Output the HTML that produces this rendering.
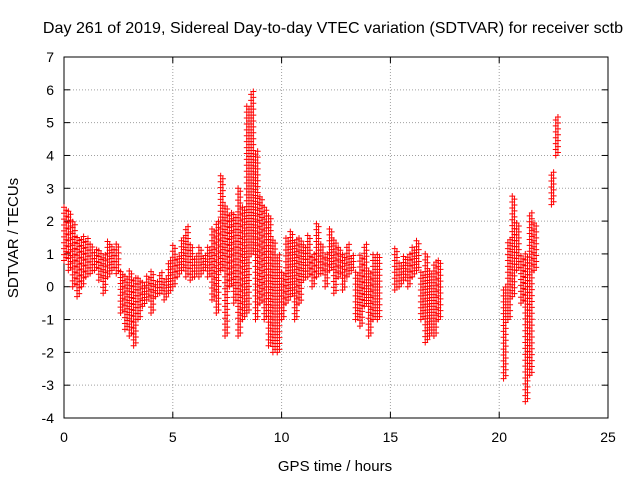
<!DOCTYPE html>
<html><head><meta charset="utf-8"><style>
body{margin:0;background:#fff;}
svg{display:block;font-family:"Liberation Sans",sans-serif;}
</style></head><body>
<svg id="chart" width="640" height="480">
<rect width="640" height="480" fill="#fff"/>
<text x="333" y="33" font-size="16.1" text-anchor="middle">Day 261 of 2019, Sidereal Day-to-day VTEC variation (SDTVAR) for receiver sctb</text>
<g id="grid"></g>
<g id="axes"></g>
<g id="marks"></g>
<text x="335" y="471" font-size="15" text-anchor="middle">GPS time / hours</text>
<text transform="translate(18,238) rotate(-90)" font-size="15" text-anchor="middle">SDTVAR / TECUs</text>
</svg>
<script>
const xTicks=[0,5,10,15,20,25];
const yTicks=[-4,-3,-2,-1,0,1,2,3,4,5,6,7];
const times=[0.0,0.2,0.4,0.6,0.8,1.0,1.2,1.4,1.6,1.8,2.0,2.2,2.4,2.6,2.8,3.0,3.2,3.4,3.6,3.8,4.0,4.2,4.4,4.6,4.8,5.0,5.2,5.4,5.6,5.8,6.0,6.2,6.4,6.6,6.8,7.0,7.2,7.4,7.6,7.8,8.0,8.2,8.4,8.6,8.8,9.0,9.2,9.4,9.6,9.8,10.0,10.2,10.4,10.6,10.8,11.0,11.2,11.4,11.6,11.8,12.0,12.2,12.4,12.6,12.8,13.0,13.2,13.4,13.6,13.8,14.0,14.2,14.4,15.2,15.4,15.6,15.8,16.0,16.2,16.4,16.6,16.8,17.0,17.2,20.2,20.4,20.6,20.8,21.0,21.2,21.4,21.6,22.4,22.6];
const lowVals=[0.8,0.5,0,-0.3,0,0.3,0.4,0.5,0.2,-0.2,0.3,0.5,0.4,-0.8,-1.3,-1.5,-1.8,-1.0,-0.6,-0.4,-0.8,-0.3,-0.2,-0.4,-0.2,0,0.3,0.5,0.3,0.2,0.3,0.3,0.5,0.3,-0.4,-0.8,0.5,-1.5,0,-0.5,-1.5,-1.0,-0.8,1.0,-1.0,-0.5,-1.0,-1.8,-2.0,-2.0,-1.0,-0.5,-0.3,-1.0,-0.5,0.2,0.3,0,0.3,0.4,0,0.5,-0.2,0.3,-0.1,0.3,0.5,-1.0,-1.2,-0.6,-1.5,-1.0,-1.0,-0.1,0,0.2,0,0.3,0.5,-1.0,-1.7,-1.5,-1.5,-1.0,-2.8,-1.0,-0.3,0.5,-0.5,-3.5,-2.7,0.5,2.5,4.0];
const highVals=[2.5,2.3,2,1.5,1.6,1.5,1.3,1.2,1.1,1.0,1.4,1.3,1.3,0.5,0.4,0.5,0.3,0.3,0.2,0.4,0.5,0.2,0.5,0.3,0.8,1.3,1.0,1.5,1.9,1.3,1.0,1.2,1.0,1.2,1.8,2.0,3.4,2.5,2.3,2.2,3.0,2.5,5.5,6.0,4.2,2.8,2.5,2.2,1.5,1.0,0.5,1.5,1.7,1.5,1.5,1.3,1.6,1.0,2.0,1.3,1.0,1.8,1.5,1.2,1.0,1.3,1.0,0.5,1.0,1.3,0.5,1.0,1.0,1.2,0.8,1.0,1.0,1.2,1.4,0.5,1.0,0.5,0.8,0.8,0,1.5,2.8,2.0,1.0,1.0,2.3,2.0,3.5,5.2];
const NS="http://www.w3.org/2000/svg";
const X0=64,X1=608,Y0=418,Y1=57;
function xs(v){return X0+(v-0)/(25-0)*(X1-X0);}
function ys(v){return Y0-(v+4)/(7+4)*(Y0-Y1);}
function mk(tag,attrs,parent){const e=document.createElementNS(NS,tag);for(const k in attrs)e.setAttribute(k,attrs[k]);parent.appendChild(e);return e;}
const grid=document.getElementById('grid'),axes=document.getElementById('axes'),marks=document.getElementById('marks');
xTicks.forEach(t=>{
  const x=xs(t);
  if(t>0&&t<25){const g=mk('line',{x1:x,x2:x,y1:Y1,y2:Y0,stroke:'#a0a0a0','stroke-dasharray':'1,2'},grid);
  
  }
  mk('line',{x1:x,x2:x,y1:Y0,y2:Y0-6,stroke:'#000'},axes);
  mk('line',{x1:x,x2:x,y1:Y1,y2:Y1+6,stroke:'#000'},axes);
  const l=mk('text',{x:x,y:442,'font-size':14,'text-anchor':'middle'},axes);
  l.textContent=t;
  
  
});
yTicks.forEach(t=>{
  const y=ys(t);
  if(t>-4&&t<7){const g=mk('line',{x1:X0,x2:X1,y1:y,y2:y,stroke:'#a0a0a0','stroke-dasharray':'1,2'},grid);
  
  }
  mk('line',{x1:X0,x2:X0+6,y1:y,y2:y,stroke:'#000'},axes);
  mk('line',{x1:X1,x2:X1-6,y1:y,y2:y,stroke:'#000'},axes);
  const l=mk('text',{x:X0-10,y:y+5,'font-size':14,'text-anchor':'end'},axes);
  l.textContent=t;
  
  
});
const fr=mk('rect',{x:X0,y:Y1,width:X1-X0,height:Y0-Y1,fill:'none',stroke:'#000'},axes);


let d='';
times.forEach((t,i)=>{
  [0,0.1].forEach((off,k)=>{
    const x=xs(t+off);
    for(let v=lowVals[i]+k*0.09;v<=highVals[i]+0.001;v+=0.18){
      const y=ys(v);
      d+=`M${x-3},${y}h6M${x},${y-3}v6`;
    }
  });
});
const p=mk('path',{d:d,stroke:'#ff0000','stroke-width':1,fill:'none'},marks);


</script>
</body></html>
